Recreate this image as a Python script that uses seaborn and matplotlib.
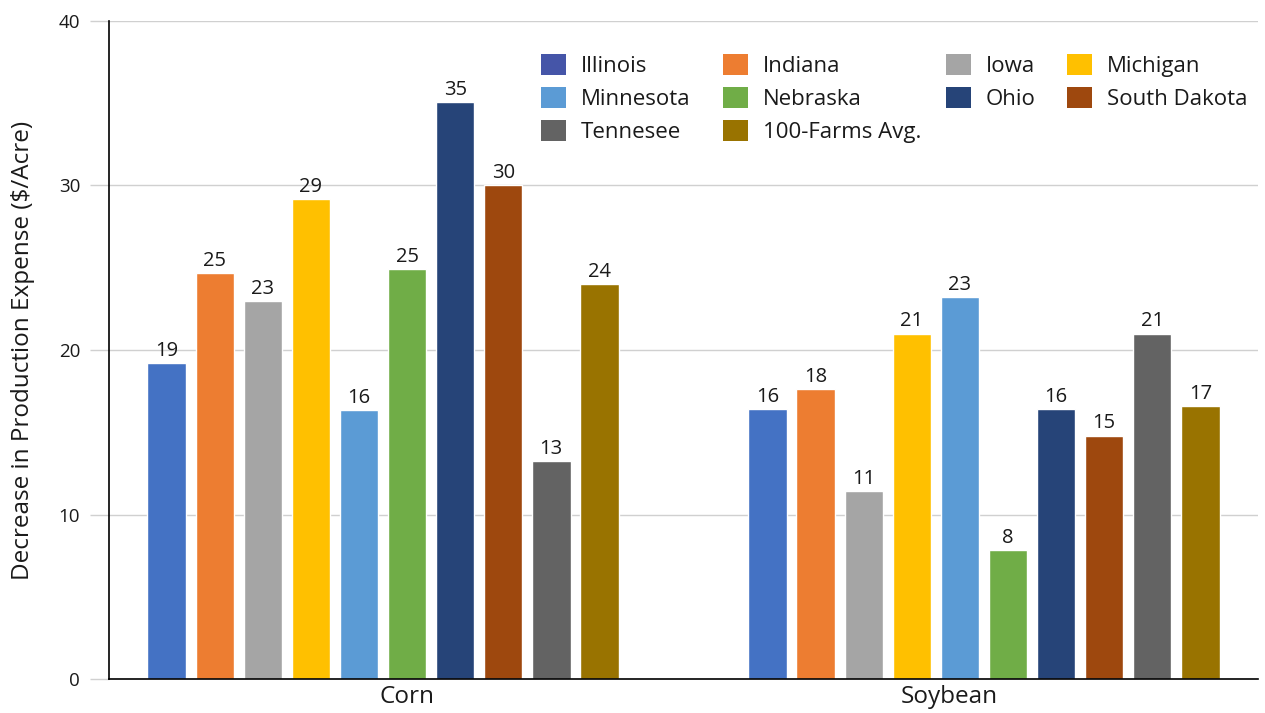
import pandas as pd
import matplotlib
matplotlib.use("Agg")
import matplotlib.pyplot as plt
import seaborn as sns
from matplotlib.patches import Patch
from matplotlib.legend import Legend

# values ($/acre)
crops = ["Corn", "Soybean"]
states = ["Illinois", "Indiana", "Iowa", "Michigan", "Minnesota",
          "Nebraska", "Ohio", "South Dakota", "Tennesee", "100-Farms Avg."]
corn_values = [19.2, 24.7, 23.0, 29.2, 16.35, 24.9, 35.1, 30.0, 13.25, 24.0]
soybean_values = [16.4, 17.6, 11.4, 21.0, 23.2, 7.85, 16.4, 14.8, 21.0, 16.6]
colors = ["#4472C4", "#ED7D31", "#A5A5A5", "#FFC000", "#5B9BD5",
          "#70AD47", "#264478", "#9E480E", "#636363", "#997300"]
y_ticks = [0, 10, 20, 30, 40]

df = pd.DataFrame({
    "crop": ["Corn"] * len(states) + ["Soybean"] * len(states),
    "state": states + states,
    "value": corn_values + soybean_values,
})

sns.set_theme(style="white")
plt.rcParams["font.family"] = ["Open Sans", "DejaVu Sans"]
text_color = "#1a1a1a"

fig = plt.figure(figsize=(12.65, 7.13), dpi=100)
ax = fig.add_axes([109 / 1265, 1 - 679 / 713, 1149 / 1265, 658 / 713])

sns.barplot(data=df, x="crop", y="value", hue="state", order=crops,
            hue_order=states, palette=dict(zip(states, colors)),
            width=0.8, gap=0.2, saturation=1, ax=ax, legend=False)

for cont in ax.containers:
    ax.bar_label(cont, fmt="{:.0f}", padding=1.5, fontsize=14.5, color=text_color)

ax.set_xlim(-0.456, 1.456)
ax.set_ylim(0, 40)
ax.set_yticks(y_ticks)
ax.yaxis.grid(True, color="#d0d0d0", linewidth=1)
ax.set_axisbelow(True)
ax.tick_params(axis="y", length=13.7, width=1, color="#d0d0d0", pad=7,
               labelsize=13.5, labelcolor=text_color, left=True)
ax.yaxis.get_major_ticks()[0].tick1line.set_color("black")

ax.set_xticks([0.04, 0.943])
ax.set_xticklabels(crops, fontsize=17.5, color=text_color)
ax.tick_params(axis="x", length=0, pad=4)
ax.set_xlabel("")
ax.set_ylabel("Decrease in Production Expense ($/Acre)", fontsize=17.5,
              color=text_color, labelpad=17)

for side in ["top", "right"]:
    ax.spines[side].set_visible(False)
for side in ["left", "bottom"]:
    ax.spines[side].set_color("black")
    ax.spines[side].set_linewidth(1.2)

# legend laid out as four fixed columns like the original
legend_colors = list(colors)
legend_colors[0] = "#4555A8"
columns = [[0, 4, 8], [1, 5, 9], [2, 6], [3, 7]]
col_x = [0.376, 0.5344, 0.7285, 0.8338]
for cx, idx in zip(col_x, columns):
    handles = [Patch(facecolor=legend_colors[i], edgecolor="none", label=states[i])
               for i in idx]
    leg = Legend(ax, handles, [states[i] for i in idx], loc="upper left",
                 bbox_to_anchor=(cx, 0.9498), frameon=False, borderpad=0,
                 borderaxespad=0, fontsize=16, handlelength=1.13,
                 handleheight=1.08, handletextpad=0.65, labelspacing=0.45)
    for t in leg.get_texts():
        t.set_color(text_color)
    ax.add_artist(leg)

fig.savefig("out.png", dpi=100)
